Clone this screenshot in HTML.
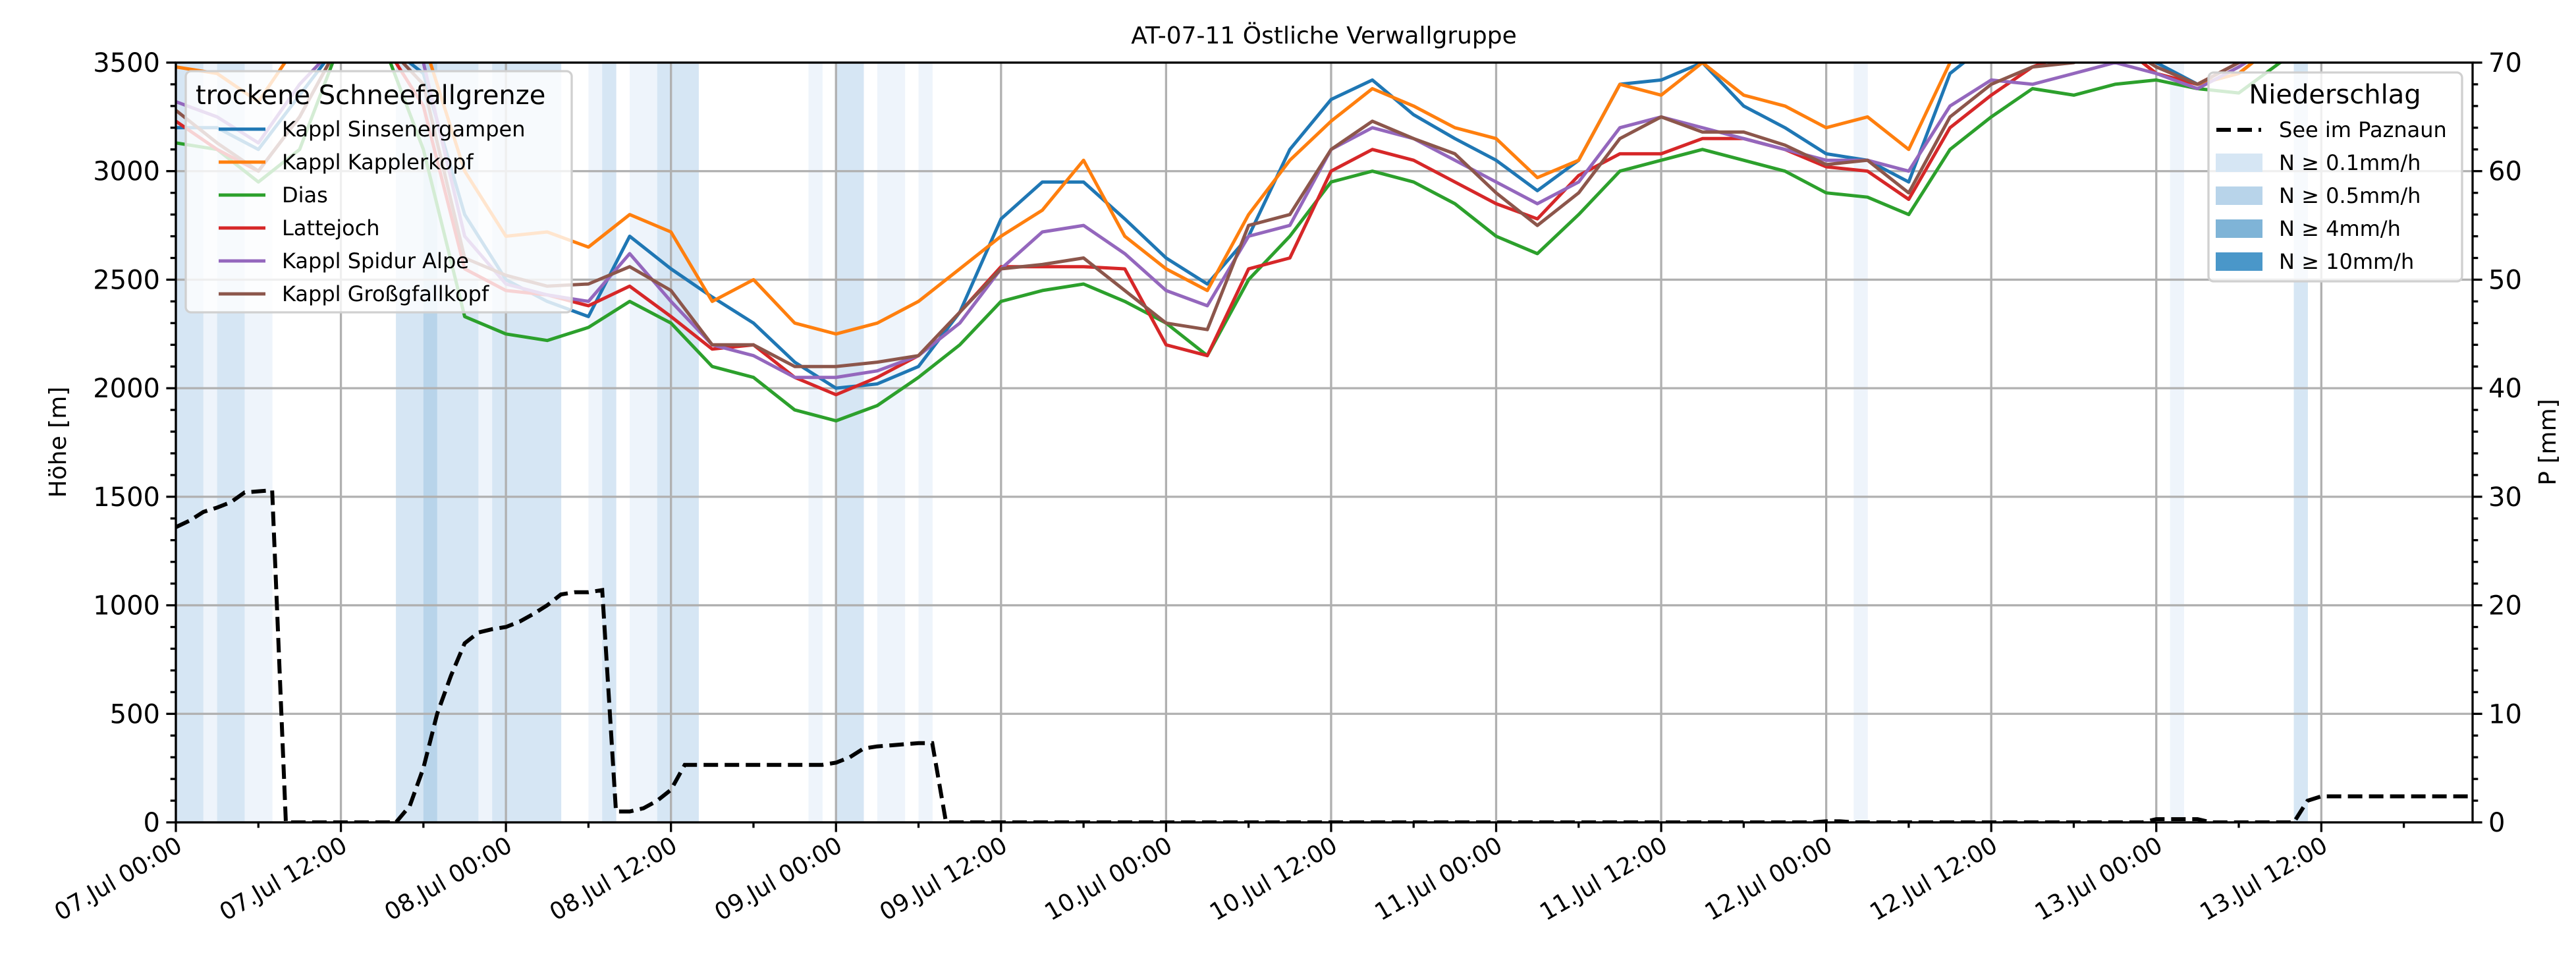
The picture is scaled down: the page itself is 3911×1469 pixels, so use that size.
<!DOCTYPE html>
<html><head><meta charset="utf-8"><style>
html,body{margin:0;padding:0;background:#fff}
svg{display:block;font-family:"DejaVu Sans","Liberation Sans",sans-serif}
</style></head><body>
<svg id="chart" width="3911" height="1469" viewBox="0 0 3911 1469" xmlns="http://www.w3.org/2000/svg">
<defs><clipPath id="plotclip"><rect x="267" y="95" width="3487" height="1153"/></clipPath></defs>
<rect x="0" y="0" width="3911" height="1469" fill="#fff"/>
<g id="bands" clip-path="url(#plotclip)"></g>
<g id="grid"></g>
<g id="lines" clip-path="url(#plotclip)"></g>
<g id="axes"></g>
<text x="2010" y="66" text-anchor="middle" font-size="36">AT-07-11 Östliche Verwallgruppe</text>
<text transform="translate(100,671) rotate(-90)" text-anchor="middle" font-size="36">Höhe [m]</text>
<text transform="translate(3880,671) rotate(-90)" text-anchor="middle" font-size="36">P [mm]</text>
<g id="legend1"></g>
<g id="legend2"></g>
</svg>
<script>
const hours3 = [0,3,6,9,12,15,18,21,24,27,30,33,36,39,42,45,48,51,54,57,60,63,66,69,72,75,78,81,84,87,90,93,96,99,102,105,108,111,114,117,120,123,126,129,132,135,138,141,144,147,150,153,156,159,162,165,167];
const seriesNames = ["Kappl Sinsenergampen","Kappl Kapplerkopf","Dias","Lattejoch","Kappl Spidur Alpe","Kappl Großgfallkopf"];
const seriesColors = ["#1f77b4","#ff7f0e","#2ca02c","#d62728","#9467bd","#8c564b"];
const sinsenergampen = [3200,3200,3100,3350,3600,3600,3450,2800,2500,2400,2330,2700,2550,2420,2300,2120,2000,2020,2100,2350,2780,2950,2950,2780,2600,2480,2700,3100,3330,3420,3260,3150,3050,2910,3050,3400,3420,3500,3300,3200,3080,3050,2950,3450,3600,3600,3600,3600,3500,3400,3450,3600,3600,3600,3600,3600,3600];
const kapplerkopf = [3480,3450,3320,3600,3600,3600,3600,3000,2700,2720,2650,2800,2720,2400,2500,2300,2250,2300,2400,2550,2700,2820,3050,2700,2550,2450,2800,3050,3230,3380,3300,3200,3150,2970,3050,3400,3350,3500,3350,3300,3200,3250,3100,3500,3600,3600,3600,3600,3450,3400,3450,3600,3600,3600,3600,3600,3600];
const dias = [3130,3100,2950,3100,3600,3600,3100,2330,2250,2220,2280,2400,2300,2100,2050,1900,1850,1920,2050,2200,2400,2450,2480,2400,2300,2150,2500,2700,2950,3000,2950,2850,2700,2620,2800,3000,3050,3100,3050,3000,2900,2880,2800,3100,3250,3380,3350,3400,3420,3380,3360,3500,3600,3600,3600,3600,3600];
const lattejoch = [3230,3100,3000,3250,3600,3600,3300,2550,2450,2430,2380,2470,2330,2180,2200,2050,1970,2050,2150,2350,2560,2560,2560,2550,2200,2150,2550,2600,3000,3100,3050,2950,2850,2780,2980,3080,3080,3150,3150,3100,3020,3000,2870,3200,3350,3480,3550,3600,3450,3400,3500,3600,3600,3600,3600,3600,3600];
const spidur = [3320,3250,3130,3400,3600,3600,3500,2700,2480,2430,2400,2620,2400,2200,2150,2050,2050,2080,2150,2300,2550,2720,2750,2620,2450,2380,2700,2750,3100,3200,3150,3050,2950,2850,2950,3200,3250,3200,3150,3100,3050,3050,3000,3300,3420,3400,3450,3500,3450,3380,3480,3600,3600,3600,3600,3600,3600];
const grossgfall = [3280,3130,3000,3250,3600,3600,3400,2600,2520,2470,2480,2560,2450,2200,2200,2100,2100,2120,2150,2350,2550,2570,2600,2450,2300,2270,2750,2800,3100,3230,3150,3080,2900,2750,2900,3150,3250,3180,3180,3120,3030,3050,2900,3250,3400,3480,3500,3600,3480,3400,3500,3600,3600,3600,3600,3600,3600];
const allSeries = [sinsenergampen,kapplerkopf,dias,lattejoch,spidur,grossgfall];
const precipSum = [27.2,27.8,28.6,29.0,29.5,30.4,30.5,30.6,
0,0,0,0,0,0,0,0,0,
1.5,5,10,13.5,16.5,17.5,17.8,18,18.5,19.2,20,21,21.2,21.2,21.4,
1,1,1.3,2,3,5.3,
5.3,5.3,5.3,5.3,5.3,5.3,5.3,5.3,5.3,5.3,
5.5,6,6.8,7,7.1,7.2,7.3,7.3,
0,0,0,0,0,0,0,0,0,0,0,0,0,0,0,0,0,0,0,0,0,0,0,0,0,0,0,0,0,0,0,0,0,0,0,0,0,0,0,0,0,0,0,0,0,0,0,0,0,0,0,0,0,0,0,0,0,0,0,0,0,0,0,0,
0.1,0.1,
0,0,0,0,0,0,0,0,0,0,0,0,0,0,0,0,0,0,0,0,0,0,
0.3,0.3,0.3,0.3,
0,0,0,0,0,0,0,
2,2.4,
2.4,2.4,2.4,2.4,2.4,2.4,2.4,2.4,2.4,2.4,2.4];
const bandHours = [0,1,2,3,4,5,6,16,17,18,19,20,21,22,23,24,25,26,27,30,31,33,34,35,36,37,46,48,49,51,52,54,122,145,154];
const bandLevels = [2,2,1,2,2,1,1,2,2,3,2,2,2,1,2,2,2,2,2,1,2,1,1,2,2,2,1,2,2,1,1,1,1,1,2];
const xTickLabels = ["07.Jul 00:00","07.Jul 12:00","08.Jul 00:00","08.Jul 12:00","09.Jul 00:00","09.Jul 12:00","10.Jul 00:00","10.Jul 12:00","11.Jul 00:00","11.Jul 12:00","12.Jul 00:00","12.Jul 12:00","13.Jul 00:00","13.Jul 12:00"];
const yTicks = [0,500,1000,1500,2000,2500,3000,3500];
const y2Ticks = [0,10,20,30,40,50,60,70];

const L=267,R=3754,T=95,B=1248,XMAX=167;
const NS="http://www.w3.org/2000/svg";
const xs=h=>L+(R-L)*h/XMAX;
const ys=v=>B-(B-T)*v/3500;
const ys2=v=>B-(B-T)*v/70;
function mk(tag,attrs,parent){const e=document.createElementNS(NS,tag);for(const k in attrs)e.setAttribute(k,attrs[k]);parent.appendChild(e);return e;}
const bandColors={1:"#eef4fb",2:"#d6e6f4",3:"#b8d4ea",4:"#7fb4d7",5:"#4a97c9"};
const gB=document.getElementById('bands');
bandHours.forEach((h,i)=>{const r=mk('rect',{x:xs(h),y:T,width:xs(h+1)-xs(h)+0.5,height:B-T,fill:bandColors[bandLevels[i]]},gB);

});
const gG=document.getElementById('grid');
xTickLabels.forEach((t,i)=>{const x=xs(i*12);const l=mk('line',{x1:x,x2:x,y1:T,y2:B,stroke:"#b0b0b0","stroke-width":3.3},gG);

});
yTicks.forEach(v=>{const y=ys(v);const l=mk('line',{x1:L,x2:R,y1:y,y2:y,stroke:"#b0b0b0","stroke-width":3.3},gG);

});
const gL=document.getElementById('lines');
allSeries.forEach((s,i)=>{const d=s.map((v,j)=>(j?'L':'M')+xs(hours3[j]).toFixed(1)+','+ys(v).toFixed(1)).join('');
const p=mk('path',{d:d,fill:"none",stroke:seriesColors[i],"stroke-width":5,"stroke-linejoin":"round"},gL);

});
{const d=precipSum.map((v,j)=>(j?'L':'M')+xs(j).toFixed(1)+','+ys2(v).toFixed(1)).join('');
const p=mk('path',{d:d,fill:"none",stroke:"#000","stroke-width":6,"stroke-dasharray":"22,10"},gL);

}
const gA=document.getElementById('axes');
mk('rect',{x:L,y:T,width:R-L,height:B-T,fill:"none",stroke:"#000","stroke-width":3.3},gA);
for(let h=0;h<=XMAX;h+=6){const x=xs(h);const major=h%12===0;mk('line',{x1:x,x2:x,y1:B,y2:B+(major?14.6:8.3),stroke:"#000","stroke-width":3.3},gA);}
xTickLabels.forEach((t,i)=>{const x=xs(i*12);const tx=mk('text',{transform:`translate(${x+12},${B+42}) rotate(-30)`,"text-anchor":"end","font-size":36},gA);tx.textContent=t;

});
for(let v=0;v<=3500;v+=100){const y=ys(v);mk('line',{x1:L,x2:L-(v%500===0?14.6:8.3),y1:y,y2:y,stroke:"#000","stroke-width":3.3},gA);}
yTicks.forEach(v=>{const tx=mk('text',{x:L-24,y:ys(v)+14,"text-anchor":"end","font-size":40},gA);tx.textContent=v;

});
for(let v=0;v<=70;v+=2){const y=ys2(v);mk('line',{x1:R,x2:R+(v%10===0?14.6:8.3),y1:y,y2:y,stroke:"#000","stroke-width":3.3},gA);}
y2Ticks.forEach(v=>{const tx=mk('text',{x:R+24,y:ys2(v)+14,"text-anchor":"start","font-size":40},gA);tx.textContent=v;

});
// legend 1
const g1=document.getElementById('legend1');
mk('rect',{x:282,y:108,width:586,height:366,rx:8,fill:"rgba(255,255,255,0.8)",stroke:"#d0d0d0","stroke-width":3.3},g1);
{const t=mk('text',{x:297,y:158,"font-size":40},g1);t.textContent="trockene Schneefallgrenze";

}
seriesNames.forEach((n,i)=>{const y=196+i*50;mk('line',{x1:332,x2:403,y1:y,y2:y,stroke:seriesColors[i],"stroke-width":5},g1);
const t=mk('text',{x:428,y:y+11,"font-size":32},g1);t.textContent=n;

});
// legend 2
const g2=document.getElementById('legend2');
mk('rect',{x:3353,y:110,width:385,height:317,rx:8,fill:"rgba(255,255,255,0.8)",stroke:"#d0d0d0","stroke-width":3.3},g2);
{const t=mk('text',{x:3545,y:157,"font-size":40,"text-anchor":"middle"},g2);t.textContent="Niederschlag";

}
mk('line',{x1:3365,x2:3433,y1:197,y2:197,stroke:"#000","stroke-width":6,"stroke-dasharray":"22,10"},g2);
const l2txt=["See im Paznaun","N ≥ 0.1mm/h","N ≥ 0.5mm/h","N ≥ 4mm/h","N ≥ 10mm/h"];
l2txt.forEach((n,i)=>{const y=197+i*50;if(i>0)mk('rect',{x:3364,y:y-14,width:71,height:28,fill:bandColors[i+1]},g2);
const t=mk('text',{x:3460,y:y+11,"font-size":32},g2);t.textContent=n;

});
</script>
</body></html>
